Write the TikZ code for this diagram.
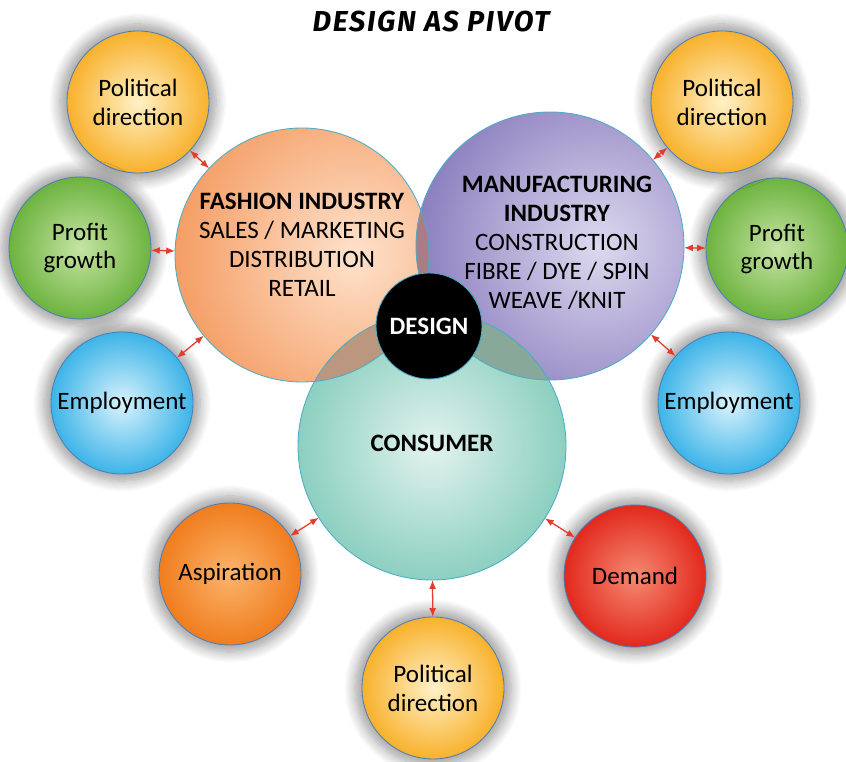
\documentclass[tikz,border=0pt]{standalone}
\usepackage{fontspec}
\setmainfont{Carlito}
\newfontfamily\titlefont{Fira Sans}[LetterSpace=6]
\usetikzlibrary{arrows.meta,positioning,shadows.blur}
\definecolor{polout}{HTML}{F8B12C}
\definecolor{polin}{HTML}{FFF1C6}
\definecolor{proout}{HTML}{6DB33F}
\definecolor{proin}{HTML}{C6E4A4}
\definecolor{empout}{HTML}{3DB4E8}
\definecolor{empin}{HTML}{D8F2FC}
\definecolor{aspout}{HTML}{F07D1E}
\definecolor{aspin}{HTML}{FBB46C}
\definecolor{demout}{HTML}{E2291D}
\definecolor{demin}{HTML}{F58A72}
\definecolor{fashout}{HTML}{F49C62}
\definecolor{fashin}{HTML}{FEE2CC}
\definecolor{manuout}{HTML}{8A7DBE}
\definecolor{manuin}{HTML}{DDD9EF}
\definecolor{consout}{HTML}{6CC2AF}
\definecolor{consin}{HTML}{E2F3EE}
\definecolor{fashmanu}{HTML}{A97D87}
\definecolor{fashcons}{HTML}{BC977F}
\definecolor{manucons}{HTML}{88A899}
\definecolor{rimblue}{HTML}{4A7EBB}
\definecolor{rimteal}{HTML}{4BACC6}
\definecolor{linkred}{HTML}{E53B2F}
% off-centre glow inside a hub
\newcommand{\hubshade}[3]{\shade[inner color=#2,outer color=#3]
  ([xshift=#1]path picture bounding box.center) circle[radius=4.6cm];}

\begin{document}
\begin{tikzpicture}[x=1cm,y=1cm,>={Latex[length=2.2mm,width=1.7mm]},
  font=\fontsize{17.8}{20.6}\selectfont,
  bubble/.style={circle,minimum size=3.55cm,inner sep=0pt,outer sep=0pt,
    draw=rimblue,line width=0.6pt,align=center,shading=radial,
    blur shadow={shadow xshift=0pt,shadow yshift=0pt,shadow scale=1.1,
      shadow blur radius=7pt,shadow blur steps=12,shadow opacity=38}},
  hub/.style={circle,inner sep=0pt,outer sep=0pt},
  hubrim/.style={rimteal,line width=0.6pt},
  hubtext/.style={align=center,inner sep=0pt},
  link/.style={<->,linkred,line width=0.9pt}]
  \useasboundingbox (0,0) rectangle (21.15,19.05);
  % Title
  \node[font=\titlefont\fontsize{20.5}{23}\selectfont\bfseries\itshape] (title) at (10.775,18.5) {DESIGN AS PIVOT};
  % Three overlapping hubs
  \node[hub,minimum size=6.35cm,path picture={\hubshade{1.3cm}{fashin}{fashout}}] (fash) at (7.55,12.675) {};
  \node[hub,minimum size=6.7cm,path picture={\hubshade{1.2cm}{manuin}{manuout}}] (manu) at (13.75,12.9) {};
  \node[hub,minimum size=6.7cm,path picture={\hubshade{0cm}{consin}{consout}}] (cons) at (10.8,7.9) {};
  % Shared zones
  \begin{scope}
    \clip (fash.center) circle[radius=3.175cm];
    \fill[fashmanu] (manu.center) circle[radius=3.35cm];
    \fill[fashcons] (cons.center) circle[radius=3.35cm];
  \end{scope}
  \begin{scope}
    \clip (manu.center) circle[radius=3.35cm];
    \fill[manucons] (cons.center) circle[radius=3.35cm];
  \end{scope}
  \draw[hubrim] (fash.center) circle[radius=3.175cm]
    (manu.center) circle[radius=3.35cm] (cons.center) circle[radius=3.35cm];
  \node[hubtext] (fashtxt) at ([yshift=0.25cm]fash.center)
    {\textbf{FASHION INDUSTRY}\\SALES / MARKETING\\DISTRIBUTION\\RETAIL};
  \node[hubtext] (manutxt) at ([xshift=0.175cm,yshift=0.075cm]manu.center)
    {\textbf{MANUFACTURING}\\\textbf{INDUSTRY}\\CONSTRUCTION\\FIBRE / DYE / SPIN\\WEAVE /KNIT};
  \node[hubtext] (constxt) at ([yshift=0.075cm]cons.center) {\textbf{CONSUMER}};
  % Centre
  \node[circle,minimum size=2.65cm,inner sep=0pt,fill=black,draw=rimteal,line width=0.6pt,
    text=white,font=\fontsize{17.8}{20.6}\selectfont\bfseries] (design) at (10.725,10.9) {DESIGN};
  % Outer bubbles
  \node[bubble,inner color=polin,outer color=polout] (polTL) at (3.45,16.5) {Political\\direction};
  \node[bubble,inner color=proin,outer color=proout] (proL) at (2.0,12.85) {Profit\\growth};
  \node[bubble,inner color=empin,outer color=empout] (empL) at (3.05,8.975) {Employment};
  \node[bubble,inner color=aspin,outer color=aspout] (asp) at (5.75,4.7) {Aspiration};
  \node[bubble,inner color=polin,outer color=polout] (polB) at (10.825,1.85) {Political\\direction};
  \node[bubble,inner color=demin,outer color=demout] (dem) at (15.875,4.65) {Demand};
  \node[bubble,inner color=empin,outer color=empout] (empR) at (18.225,8.975) {Employment};
  \node[bubble,inner color=proin,outer color=proout] (proR) at (19.425,12.825) {Profit\\growth};
  \node[bubble,inner color=polin,outer color=polout] (polTR) at (18.05,16.5) {Political\\direction};
  % Links
  \draw[link] (polTL) -- (fash);
  \draw[link] (proL) -- (fash);
  \draw[link] (empL) -- (fash);
  \draw[link] (asp) -- (cons);
  \draw[link] (polB) -- (cons);
  \draw[link] (dem) -- (cons);
  \draw[link] (empR) -- (manu);
  \draw[link] (proR) -- (manu);
  \draw[link] (polTR) -- (manu);
\end{tikzpicture}
\end{document}
